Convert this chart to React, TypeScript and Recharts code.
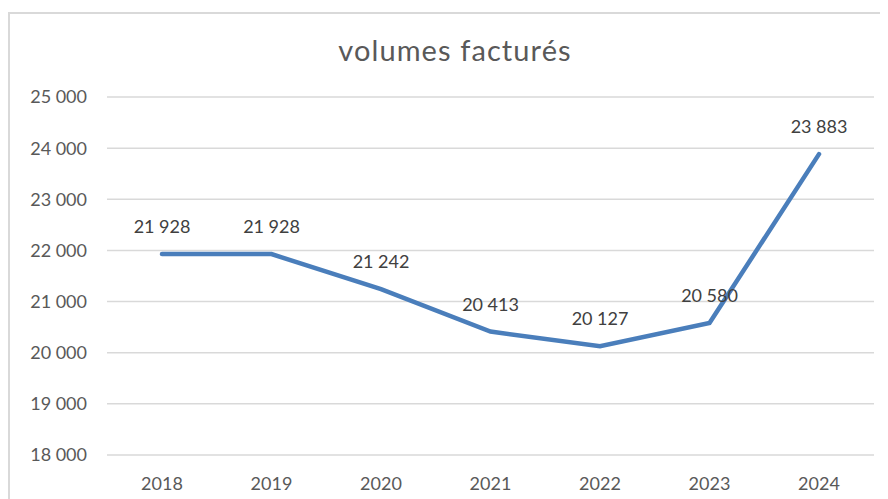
import React from 'react';
import { LineChart, Line, XAxis, YAxis, CartesianGrid, LabelList } from 'recharts';

const years = ['2018', '2019', '2020', '2021', '2022', '2023', '2024'];
const volumes = [21928, 21928, 21242, 20413, 20127, 20580, 23883];
const yTicks = [18000, 19000, 20000, 21000, 22000, 23000, 24000, 25000];

const data = years.map((y, i) => ({ year: y, v: volumes[i] }));

const fmt = (n: number) => {
  const s = String(Math.round(n));
  return s.replace(/\B(?=(\d{3})+(?!\d))/g, '\u202F');
};

const FONT = 'Lato, "Open Sans", sans-serif';

export default function App() {
  return (
    <div style={{ position: 'relative', width: 880, height: 491, fontFamily: FONT }}>
      <div
        style={{
          position: 'absolute',
          left: 0,
          top: 4,
          width: 900,
          height: 500,
          border: '2px solid #d9d9d9',
          boxSizing: 'border-box',
        }}
      />
      <div
        style={{
          position: 'absolute',
          left: 0,
          top: 25,
          width: 894,
          textAlign: 'center',
          fontSize: 29,
          letterSpacing: 1.1,
          color: '#595959',
          lineHeight: '34px',
        }}
      >
        volumes facturés
      </div>
      <div style={{ position: 'absolute', left: 0, top: 0 }}>
        <LineChart width={880} height={491} data={data} margin={{ top: 89, right: 14, bottom: 14, left: 0 }}>
          <CartesianGrid vertical={false} stroke="#d9d9d9" strokeWidth={1.5} />
          <XAxis
            dataKey="year"
            axisLine={false}
            tickLine={false}
            height={30}
            tickMargin={16}
            padding={{ left: 55, right: 55 }}
            tick={{ fill: '#595959', fontSize: 18, fontFamily: FONT }}
          />
          <YAxis
            domain={[18000, 25000]}
            ticks={yTicks}
            interval={0}
            axisLine={false}
            tickLine={false}
            width={99}
            tickMargin={14}
            tickFormatter={fmt}
            tick={{ fill: '#595959', fontSize: 18, fontFamily: FONT }}
          />
          <Line
            type="linear"
            dataKey="v"
            stroke="#4a7ebb"
            strokeWidth={4.5}
            dot={false}
            strokeLinecap="round"
            isAnimationActive={false}
          >
            <LabelList
              dataKey="v"
              position="top"
              offset={21}
              formatter={(v: number) => fmt(v)}
              style={{ fill: '#404040', fontSize: 18, fontFamily: FONT }}
            />
          </Line>
        </LineChart>
      </div>
    </div>
  );
}
